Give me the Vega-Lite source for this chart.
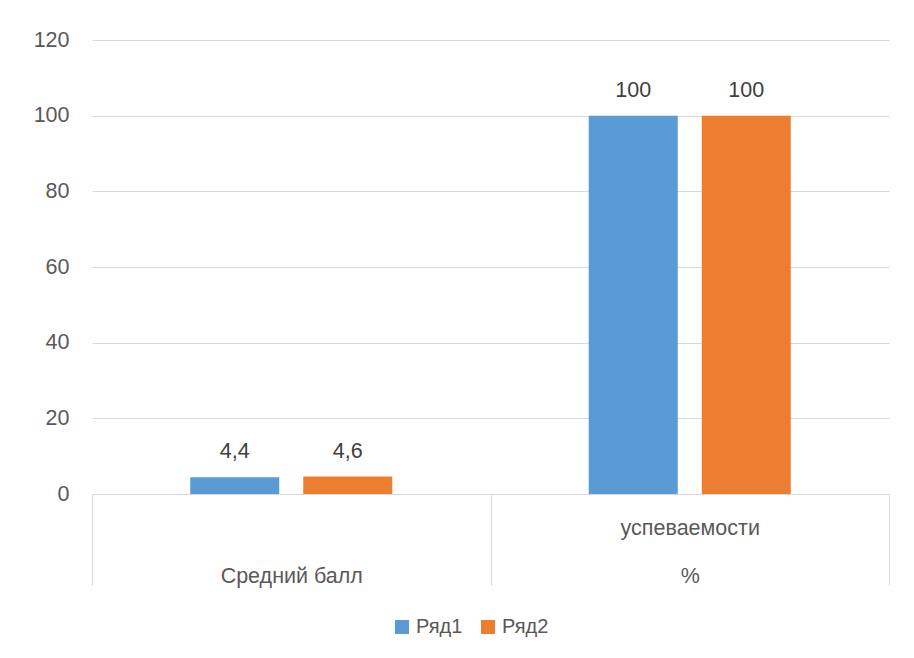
{
  "$schema": "https://vega.github.io/schema/vega-lite/v6.json",
  "width": 797,
  "height": 454,
  "autosize": {"type": "none"},
  "padding": {"left": 92, "top": 40, "right": 25, "bottom": 164},
  "background": "white",
  "config": {
    "view": {"stroke": null},
    "font": "Liberation Sans",
    "locale": {"number": {"decimal": ",", "thousands": " ", "grouping": [3], "currency": ["", " ₽"]}}
  },
  "data": {
    "values": [
      {"category": "Средний балл", "series": "Ряд1", "value": 4.4},
      {"category": "Средний балл", "series": "Ряд2", "value": 4.6},
      {"category": "% успеваемости", "series": "Ряд1", "value": 100},
      {"category": "% успеваемости", "series": "Ряд2", "value": 100}
    ]
  },
  "encoding": {
    "x": {
      "field": "category",
      "type": "nominal",
      "sort": null,
      "scale": {"paddingInner": 0, "paddingOuter": 0},
      "axis": {
        "title": null,
        "domainColor": "#d9d9d9",
        "tickColor": "#d9d9d9",
        "tickBand": "extent",
        "tickSize": 91,
        "labelPadding": -68,
        "labelFontSize": 21.5,
        "labelColor": "#595959",
        "labelAngle": 0,
        "labelBaseline": "top",
        "labelLineHeight": 48,
        "labelLimit": 0,
        "labelExpr": "datum.value == 'Средний балл' ? ['', 'Средний балл'] : datum.value == '% успеваемости' ? ['успеваемости', '%'] : ''"
      }
    },
    "xOffset": {"field": "series", "scale": {"paddingInner": 0.2124, "paddingOuter": 0.869}},
    "y": {
      "field": "value",
      "type": "quantitative",
      "scale": {"domain": [0, 120]},
      "axis": {
        "title": null,
        "values": [0, 20, 40, 60, 80, 100, 120],
        "domain": false,
        "ticks": false,
        "labelPadding": 23,
        "labelFontSize": 21.5,
        "labelColor": "#595959",
        "gridColor": "#d9d9d9",
        "gridWidth": 1
      }
    }
  },
  "layer": [
    {
      "mark": {"type": "bar"},
      "encoding": {
        "color": {
          "field": "series",
          "type": "nominal",
          "scale": {"domain": ["Ряд1", "Ряд2"], "range": ["#5b9bd5", "#ed7d31"]},
          "legend": {
            "title": null,
            "orient": "none",
            "legendX": 300,
            "legendY": 577,
            "direction": "horizontal",
            "symbolType": "square",
            "symbolSize": 196,
            "symbolStrokeWidth": 0,
            "labelFontSize": 20,
            "labelColor": "#595959",
            "columnPadding": 15,
            "labelOffset": 4
          }
        }
      }
    },
    {
      "mark": {"type": "text", "baseline": "bottom", "dy": -14, "fontSize": 21.5, "color": "#404040"},
      "encoding": {"text": {"field": "value", "type": "quantitative", "format": ".1~f"}}
    }
  ]
}
